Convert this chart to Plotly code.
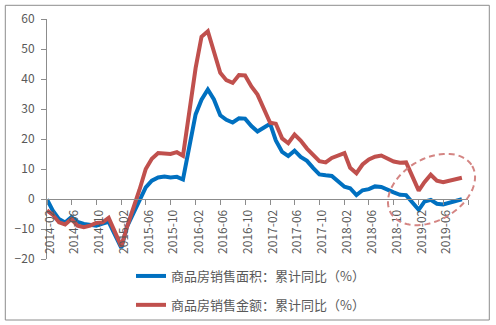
import numpy as np
import plotly.graph_objects as go

# Monthly cumulative figures (Jan-Feb reported together, so no January point)
months = [f"{y}-{m:02d}" for y in range(2014, 2020) for m in range(2, 13) if (y, m) <= (2019, 9)]

area_yoy = [
    -0.1, -3.8, -6.7, -7.8, -6.0, -7.6, -8.3, -8.6, -8.9, -8.2, -7.6,
    -16.3, -9.2, -4.8, -0.2, 3.9, 6.1, 7.2, 7.5, 7.2, 7.4, 6.5,
    28.2, 33.1, 36.5, 33.2, 27.9, 26.4, 25.5, 26.9, 26.8, 24.3, 22.5,
    25.1, 19.5, 15.7, 14.3, 16.1, 14.0, 12.7, 10.3, 8.2, 7.9, 7.7,
    4.1, 3.6, 1.3, 2.9, 3.3, 4.2, 4.0, 2.9, 2.2, 1.4, 1.3,
    -3.6, -0.9, -0.3, -1.6, -1.8, -1.3, -0.6, -0.1,
]

amount_yoy = [
    -3.8, -5.2, -7.8, -8.5, -6.7, -8.9, -9.4, -8.9, -8.0, -7.8, -6.3,
    -15.8, -9.3, -3.4, 3.0, 10.0, 13.4, 15.3, 15.3, 15.0, 15.6, 14.4,
    43.6, 54.1, 55.9, 49.4, 42.1, 39.6, 38.7, 41.3, 41.2, 37.5, 34.8,
    25.4, 25.1, 20.2, 18.6, 21.5, 19.5, 16.8, 14.6, 12.6, 12.2, 13.7,
    15.3, 10.4, 8.6, 11.5, 13.2, 14.1, 14.5, 13.3, 12.5, 12.1, 12.2,
    2.8, 5.6, 8.1, 6.1, 5.6, 6.2, 6.7, 7.1,
]

tick_months = ["2014-02", "2014-06", "2014-10", "2015-02", "2015-06", "2015-10",
               "2016-02", "2016-06", "2016-10", "2017-02", "2017-06", "2017-10",
               "2018-02", "2018-06", "2018-10", "2019-02", "2019-06", "2019-10"]
tick_text = tick_months[:-1] + [""]

series_names = ["商品房销售面积：累计同比（%）", "商品房销售金额：累计同比（%）"]
series_colors = ["#0070c0", "#c0504d"]

W, H = 496, 325
ML, MR, MT, MB = 47, 28, 19, 66
PW, PH = W - ML - MR, H - MT - MB


def to_paper(px, py):
    return (px - ML) / PW, (H - MB - py) / PH


AXIS = "#8c8c8c"
TEXT = "#595959"
FONT = "Noto Sans CJK SC"

fig = go.Figure()
for name, vals, color in zip(series_names, [area_yoy, amount_yoy], series_colors):
    fig.add_trace(go.Scatter(
        x=months, y=vals, mode="lines", name=name, legendgroup=name,
        line=dict(color=color, width=4),
    ))

# framing border around the whole chart
x0, y0 = to_paper(5.3, 320)
x1, y1 = to_paper(489.3, 5.3)
shapes = [dict(type="rect", xref="paper", yref="paper", x0=x0, y0=y0, x1=x1, y1=y1,
               line=dict(color=AXIS, width=1), layer="below")]

# tilted dashed ellipse highlighting the latest months
cx, cy, a, b, phi = 431.5, 189.5, 47, 31, np.deg2rad(-30)
t = np.linspace(0, 2 * np.pi, 90)
ex = cx + a * np.cos(t) * np.cos(phi) - b * np.sin(t) * np.sin(phi)
ey = cy + a * np.cos(t) * np.sin(phi) + b * np.sin(t) * np.cos(phi)
pts = [to_paper(px, py) for px, py in zip(ex, ey)]
path = "M" + " L".join(f"{px:.4f},{py:.4f}" for px, py in pts) + " Z"
shapes.append(dict(type="path", xref="paper", yref="paper", path=path,
                   line=dict(color="#d48583", width=2, dash="6px,4px")))

fig.update_layout(
    width=W, height=H,
    margin=dict(l=ML, r=MR, t=MT, b=MB, autoexpand=False),
    paper_bgcolor="white", plot_bgcolor="white",
    font=dict(family=FONT, size=12, color=TEXT),
    showlegend=True,
    legend=dict(
        orientation="v", x=to_paper(131, 0)[0], xanchor="left",
        y=to_paper(0, 261)[1], yanchor="top",
        font=dict(size=13, color=TEXT, family=FONT),
        bgcolor="rgba(0,0,0,0)", tracegroupgap=9,
    ),
    xaxis=dict(
        type="date", range=["2014-02-01", "2019-10-01"],
        anchor="free", position=0.25, automargin=False,
        showline=True, linecolor=AXIS, linewidth=1,
        ticks="outside", ticklen=5, tickcolor=AXIS,
        tickvals=tick_months, ticktext=tick_text, tickangle=-90,
        ticklabelshift=3,
        tickfont=dict(size=12, color=TEXT),
        showgrid=False, zeroline=False,
    ),
    yaxis=dict(
        range=[-20, 60], dtick=10, tick0=0, automargin=False,
        showline=True, linecolor=AXIS, linewidth=1,
        ticks="outside", ticklen=5, tickcolor=AXIS,
        ticklabelstandoff=4,
        tickfont=dict(size=12, color=TEXT),
        showgrid=False, zeroline=False,
    ),
    shapes=shapes,
)

fig.write_html("out.html")
